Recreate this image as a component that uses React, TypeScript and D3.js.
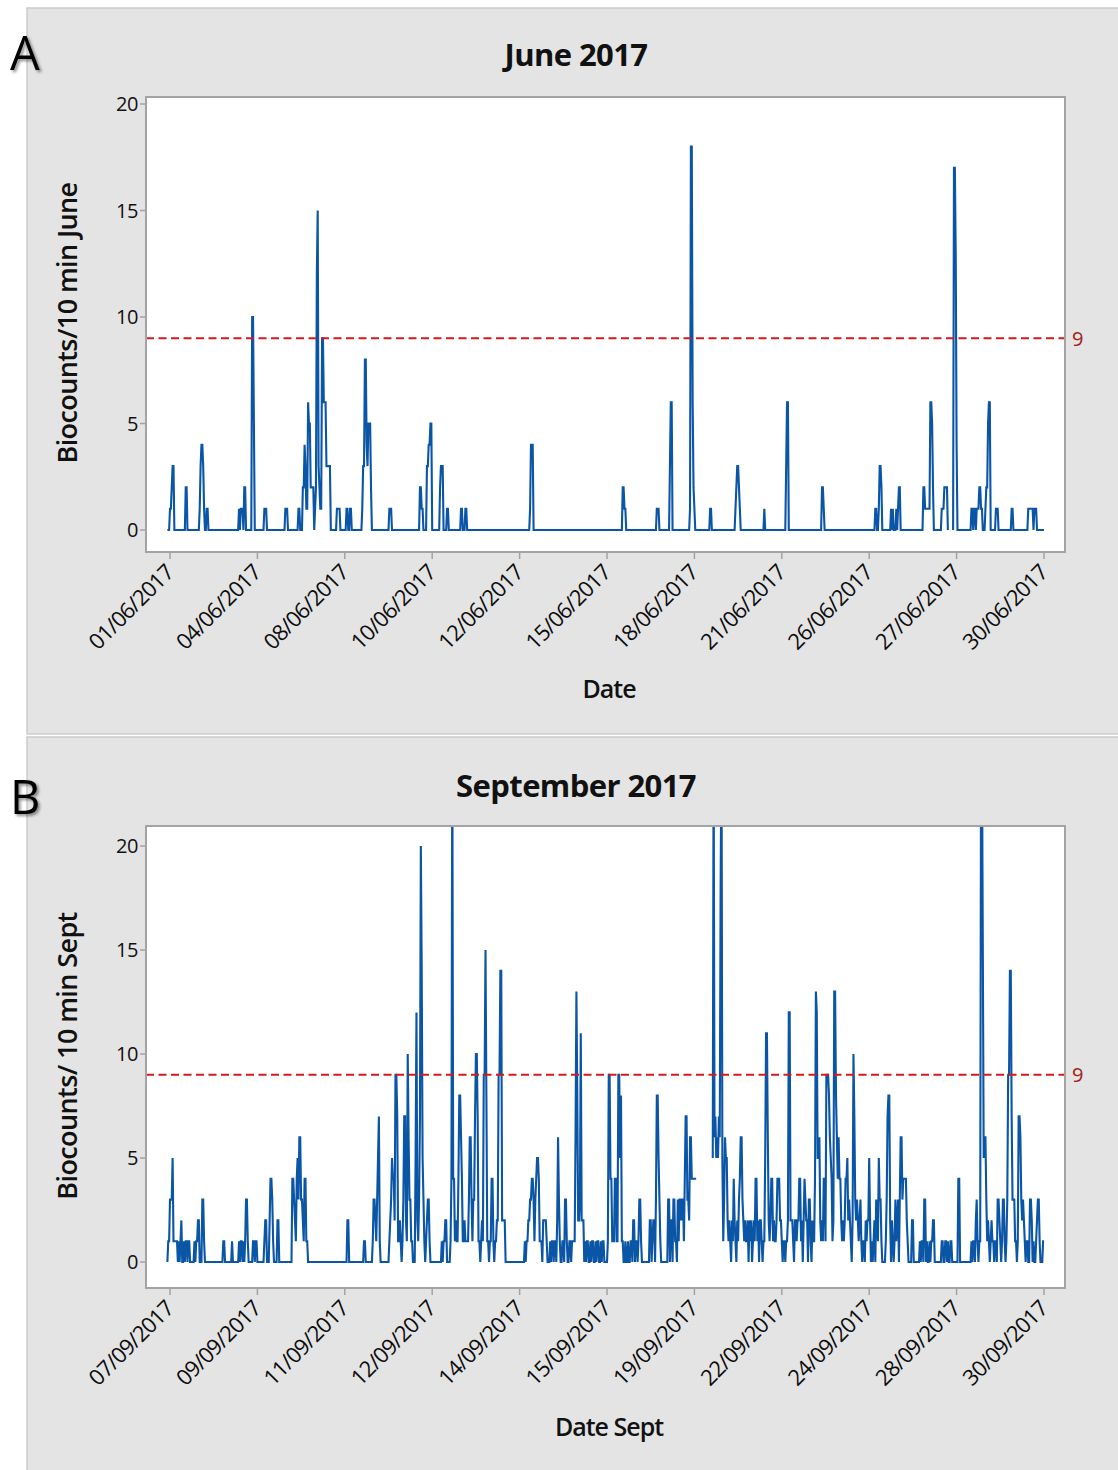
import React from "react";
import * as d3 from "d3";

// Labelled dates sit every 100 observations along the record
const tickStep = 100;
const juneDateLabels = [
  "01/06/2017", "04/06/2017", "08/06/2017", "10/06/2017", "12/06/2017", "15/06/2017",
  "18/06/2017", "21/06/2017", "26/06/2017", "27/06/2017", "30/06/2017",
];
const septDateLabels = [
  "07/09/2017", "09/09/2017", "11/09/2017", "12/09/2017", "14/09/2017", "15/09/2017",
  "19/09/2017", "22/09/2017", "24/09/2017", "28/09/2017", "30/09/2017",
];
const yTickValues = [0, 5, 10, 15, 20];
const alertLevel = 9;

// First and last observation index of each record
const juneRange: [number, number] = [-3, 1000];
const septRange: [number, number] = [-3, 1000];

// Bursts of counts: [first observation index, counts per 10 min ...]; all other observations are 0
const juneBursts: [number, number[]][] = [
  [0, [1, 1, 2, 3, 3, 0]], [18, [2, 2]], [34, [1, 3, 4, 4, 3, 1]], [42, [1, 1]],
  [79, [1, 0, 1, 1, 1, 0, 2, 2]], [94, [10, 10, 5]], [108, [1, 1, 1]], [132, [1, 1, 1]],
  [147, [1, 1]],
  [152, [2, 2, 4, 3, 1, 1, 6, 5, 5, 2, 2, 2, 2, 0, 1, 2, 12, 15, 3, 2, 1, 1, 9, 9, 6, 6, 6, 3, 3, 3, 3, 3]],
  [191, [1, 1, 1, 1]], [202, [1, 1]], [206, [1, 1]], [220, [1, 3, 3, 8, 8, 4, 3, 5, 5, 5, 2]],
  [251, [1, 1, 1]], [286, [2, 2, 1, 1]], [294, [3, 3, 4, 4, 5, 5]], [309, [2, 3, 3, 3]],
  [317, [1, 1]], [333, [1, 1]], [338, [1, 1]], [412, [1, 4, 4, 4]], [518, [2, 2, 1, 1]],
  [557, [1, 1, 1]], [572, [3, 6, 6]], [595, [1, 18, 18, 6, 2, 1]], [618, [1, 1]],
  [647, [1, 2, 3, 3, 2, 1]], [680, [1]], [705, [3, 6, 6]], [746, [2, 2, 1]],
  [807, [1, 1, 0, 0, 1, 3, 3, 2]], [825, [1, 0, 1, 0, 0, 0, 1, 0, 1, 2, 2]],
  [862, [2, 2, 1, 1, 1, 1, 1, 1, 6, 6, 5, 2]], [882, [0, 1, 1, 1, 2, 2, 2, 2, 0]],
  [897, [17, 17, 13, 4]], [917, [1, 1, 0, 1, 1, 0, 1, 1, 1, 2, 2, 1, 1]],
  [933, [1, 2, 2, 5, 6, 6]], [945, [1, 1, 1]], [963, [1, 1]], [982, [1, 1, 1, 1, 1, 1, 0, 1, 1, 1]],
];
const juneGaps: [number, number][] = [[891, 895]];

const septBursts: [number, number[]][] = [
  [-3, [0, 1, 1, 3, 3, 3, 5, 1, 1, 1, 1, 1, 0]], [10, [1, 0, 1, 2]], [16, [1, 0, 1, 1, 0, 1, 1]],
  [28, [1, 0, 1, 1, 2, 2]], [37, [3, 3, 1]], [61, [1, 1]], [71, [1]], [79, [1, 0, 1, 1, 0, 1]],
  [86, [1, 3, 3, 1]], [95, [1, 1, 0, 1, 1]], [108, [1, 2, 2]], [114, [2, 4, 4, 3, 1]], [123, [2, 2]],
  [140, [4, 4, 3, 2, 1, 4, 5, 3, 6, 6, 3, 3, 2, 1, 4, 4, 1, 1]], [203, [2, 2]], [222, [1, 1]],
  [232, [1, 3, 3, 2, 1, 3, 5, 7, 1]], [251, [1, 2, 3, 5, 4, 4, 2, 9, 9, 7, 1]], [262, [1, 2, 1]],
  [266, [1, 3, 7, 7, 2, 1, 10, 6, 3, 3, 1, 1]], [281, [5, 12]], [283, [2, 1, 3, 7, 20, 14, 5, 3, 1]],
  [293, [1, 2, 3, 3, 1]], [311, [1, 0, 1, 1, 2, 2]], [321, [1, 4, 25, 4, 4]],
  [326, [1, 2, 1, 1, 4, 8, 8, 6, 4, 1, 1, 2, 1, 1, 1, 1, 3, 6, 6, 3, 1]],
  [346, [1, 3, 3, 7, 10, 10, 7, 1, 1, 0, 1]], [357, [2, 1, 9, 9, 15, 8, 1]],
  [364, [1, 0, 1, 1, 4, 4, 1]], [372, [1, 1, 2, 2, 9, 9, 14, 14, 2, 2, 2, 2]],
  [406, [1, 0, 1, 1, 2, 2]], [412, [3, 3, 4, 4, 3, 1, 3, 4, 5, 5, 4, 1]], [424, [1, 1, 0, 2, 2, 2, 2, 1]],
  [435, [1, 0, 1, 1, 0, 1, 1, 0, 2, 6, 3, 1]], [449, [1, 1, 0, 3, 3, 1]], [457, [1, 1, 0, 1, 1, 1]],
  [463, [1, 6, 13, 8, 2, 2, 3, 11, 2, 2, 2]],
  [475, [1, 0, 1, 1, 0, 0, 1, 0, 1, 1, 0, 0, 1, 0, 1, 1, 0, 0, 1, 0, 1, 1]],
  [501, [1, 9, 9, 4, 4, 1]], [507, [1, 1, 4, 4, 1]], [512, [1, 9, 9, 5, 8, 1]],
  [518, [1, 0, 0, 1, 0, 0, 1, 0, 0, 1, 1]], [530, [2, 2, 0, 1, 1, 0, 1, 3, 3, 1]],
  [549, [2, 2, 0, 1, 2, 2, 0, 3, 8, 8, 5, 3, 1]], [570, [3, 3, 0, 2, 2, 0, 3, 3, 1, 1]],
  [581, [3, 1, 3, 3, 2, 3, 3, 1, 4, 7, 7]], [592, [3, 3, 2, 6, 6, 4, 4, 4, 4, 4, 4]],
  [621, [5, 25, 6, 7, 5, 6, 5, 7, 6, 18, 25, 5]], [633, [1, 3, 6, 5, 5, 2, 1, 2]],
  [641, [1, 0, 2, 1, 4, 2, 1, 0, 2, 1, 3, 4, 6, 6, 3, 2, 1, 2, 1]],
  [660, [1, 2, 0, 2, 1, 2, 0, 1, 2, 1, 4, 4, 1, 2, 0, 2, 2, 1, 0, 1, 1, 5, 11, 11, 6, 2]],
  [686, [1, 2, 4, 4, 1, 2, 1, 1, 2, 4, 4, 4, 2]], [699, [2, 1, 0, 1, 1, 0, 1]],
  [706, [1, 2, 12, 12, 2]], [711, [2, 2, 1, 0, 2, 2]], [717, [1, 2, 2, 4, 4, 1, 2, 0, 2, 4, 3, 2]],
  [729, [2, 0, 3, 3, 1, 0, 2, 1, 1]], [738, [4, 13, 12, 5, 5, 6, 2]], [745, [1, 2, 1, 4, 4, 1, 9]],
  [752, [9, 9, 8, 6, 5, 4]], [758, [1, 2, 13, 13, 8, 6, 4, 6, 4, 4, 2]],
  [769, [1, 2, 1, 2, 4, 4, 5, 2, 3, 2, 1, 0]], [781, [2, 10, 7, 3, 2]], [786, [3, 2, 1, 2, 3, 1, 0, 1]],
  [794, [1, 0, 2, 1, 2, 2, 5, 2, 0]], [803, [1, 0, 1, 2, 0, 3, 2, 1, 5, 3, 3, 1]],
  [819, [1, 3, 7, 8, 8, 2]], [826, [2, 1, 0, 1, 3, 1, 2, 3, 0, 3, 6, 6, 3, 4, 4, 4, 4, 2, 1]],
  [849, [2, 2]], [858, [1, 0, 1, 1, 0, 3, 3, 0, 1, 0, 0, 1, 0, 1, 1, 2, 2]],
  [883, [1, 1, 0, 0, 1, 1, 0, 1, 0, 0, 1, 1]], [902, [4, 4]], [917, [1, 0, 1, 1, 0, 2, 3, 1, 0, 1, 1]],
  [928, [25, 25, 15, 5, 6, 6]], [934, [3, 1, 2, 1, 0, 1, 2, 1]],
  [942, [1, 0, 1, 1, 0, 3, 3, 2, 1, 0, 1, 3, 3, 1]], [957, [1, 3, 9, 9, 14, 14, 7, 3, 3]],
  [966, [3, 1, 1, 0, 1, 7, 7, 6, 3, 2]], [976, [3, 2, 1, 0, 1, 1, 0, 0]],
  [984, [3, 3, 2, 0, 1, 0, 0, 1, 2, 3, 3, 1, 0, 0, 0, 1, 1]],
];
const septGaps: [number, number][] = [[603, 620]];

type Pt = { i: number; v: number };

function buildSeries(range: [number, number], bursts: [number, number[]][], gaps: [number, number][]): Pt[] {
  const pts: Pt[] = d3.range(range[0], range[1] + 1).map((i) => ({ i, v: 0 }));
  const byIndex = new Map(pts.map((p) => [p.i, p] as [number, Pt]));
  bursts.forEach(([start, vals]) =>
    vals.forEach((v, k) => {
      const p = byIndex.get(start + k);
      if (p) p.v = v;
    })
  );
  gaps.forEach(([a, b]) => {
    for (let i = a; i <= b; i++) {
      const p = byIndex.get(i);
      if (p) p.v = NaN;
    }
  });
  return pts;
}

const FONT = "'Open Sans', 'Noto Sans', sans-serif";
const LINE_BLUE = "#0a55a6";
const FRAME_GREY = "#a3a3a3";

type PanelSpec = {
  id: string;
  letter: string;
  bgTop: number;
  bgBottom: number;
  frameTop: number;
  frameBottom: number;
  y0: number;
  y20: number;
  title: string;
  titleY: number;
  letterY: number;
  yLabel: string;
  yLabelCenter: number;
  xLabel: string;
  xLabelY: number;
  dates: string[];
  series: Pt[];
};

const FRAME_LEFT = 146;
const FRAME_RIGHT = 1065;

function Panel({ p }: { p: PanelSpec }) {
  const x = d3.scaleLinear().domain([0, tickStep * (p.dates.length - 1)]).range([170, 1044]);
  const y = d3.scaleLinear().domain([0, 20]).range([p.y0, p.y20]);
  const line = d3
    .line<Pt>()
    .defined((d) => !isNaN(d.v))
    .x((d) => x(d.i))
    .y((d) => y(d.v));
  const xTicks = p.dates.map((label, k) => ({ label, pos: x(k * tickStep) }));
  const clipId = `plot-clip-${p.id}`;
  return (
    <g>
      <rect x={27} y={p.bgTop} width={1100} height={p.bgBottom - p.bgTop} fill="#e4e4e4" stroke="#cbcbcb" strokeWidth={1.5} />
      <text x={10} y={p.letterY} fontFamily={FONT} fontSize={47} fill="#000" filter="url(#letter-shadow)">
        {p.letter}
      </text>
      <text x={576} y={p.titleY} textAnchor="middle" fontFamily={FONT} fontWeight={700} fontSize={31} letterSpacing={-0.6} fill="#111">
        {p.title}
      </text>
      <defs>
        <clipPath id={clipId}>
          <rect x={FRAME_LEFT} y={p.frameTop} width={FRAME_RIGHT - FRAME_LEFT} height={p.frameBottom - p.frameTop} />
        </clipPath>
      </defs>
      <rect x={FRAME_LEFT} y={p.frameTop} width={FRAME_RIGHT - FRAME_LEFT} height={p.frameBottom - p.frameTop} fill="#fff" />
      {/* y axis ticks */}
      {yTickValues.map((t) => (
        <g key={t}>
          <line x1={FRAME_LEFT - 6} x2={FRAME_LEFT} y1={y(t)} y2={y(t)} stroke={FRAME_GREY} strokeWidth={1.5} />
          <text x={FRAME_LEFT - 8} y={y(t)} dy="0.36em" textAnchor="end" fontFamily={FONT} fontSize={20} letterSpacing={-0.4} fill="#111">
            {t}
          </text>
        </g>
      ))}
      {/* x axis ticks with rotated dates */}
      {xTicks.map((t) => (
        <g key={t.label}>
          <line x1={t.pos} x2={t.pos} y1={p.frameBottom} y2={p.frameBottom + 7} stroke={FRAME_GREY} strokeWidth={1.5} />
          <text
            transform={`translate(${t.pos + 5},${p.frameBottom + 22}) rotate(-45)`}
            textAnchor="end"
            fontFamily={FONT}
            fontSize={22}
            letterSpacing={-0.8}
            fill="#0c0c0c"
          >
            {t.label}
          </text>
        </g>
      ))}
      <g clipPath={`url(#${clipId})`}>
        <path d={line(p.series) || ""} fill="none" stroke={LINE_BLUE} strokeWidth={2.1} strokeMiterlimit={2} />
      </g>
      <line
        x1={FRAME_LEFT}
        x2={FRAME_RIGHT}
        y1={y(alertLevel)}
        y2={y(alertLevel)}
        stroke="#d7191c"
        strokeWidth={2}
        strokeDasharray="8 4.5"
      />
      <text x={FRAME_RIGHT + 7} y={y(alertLevel)} dy="0.36em" fontFamily={FONT} fontSize={20} fill="#a31a1a">
        {alertLevel}
      </text>
      <rect
        x={FRAME_LEFT}
        y={p.frameTop}
        width={FRAME_RIGHT - FRAME_LEFT}
        height={p.frameBottom - p.frameTop}
        fill="none"
        stroke={FRAME_GREY}
        strokeWidth={2}
      />
      <text
        transform={`translate(77,${p.yLabelCenter}) rotate(-90)`}
        textAnchor="middle"
        fontFamily={FONT}
        fontWeight={600}
        fontSize={27}
        letterSpacing={-0.6}
        fill="#111"
      >
        {p.yLabel}
      </text>
      <text x={609} y={p.xLabelY} textAnchor="middle" fontFamily={FONT} fontWeight={600} fontSize={25} letterSpacing={-1} fill="#111">
        {p.xLabel}
      </text>
    </g>
  );
}

export default function App() {
  const panels: PanelSpec[] = [
    {
      id: "june",
      letter: "A",
      bgTop: 8,
      bgBottom: 734,
      frameTop: 97,
      frameBottom: 552,
      y0: 530,
      y20: 104,
      title: "June 2017",
      titleY: 66,
      letterY: 70,
      yLabel: "Biocounts/10 min June",
      yLabelCenter: 323,
      xLabel: "Date",
      xLabelY: 698,
      dates: juneDateLabels,
      series: buildSeries(juneRange, juneBursts, juneGaps),
    },
    {
      id: "sept",
      letter: "B",
      bgTop: 737,
      bgBottom: 1480,
      frameTop: 826,
      frameBottom: 1288,
      y0: 1262,
      y20: 846,
      title: "September 2017",
      titleY: 797,
      letterY: 814,
      yLabel: "Biocounts/ 10 min Sept",
      yLabelCenter: 1056,
      xLabel: "Date Sept",
      xLabelY: 1436,
      dates: septDateLabels,
      series: buildSeries(septRange, septBursts, septGaps),
    },
  ];
  return (
    <svg
      width={1118}
      height={1470}
      viewBox="0 0 1118 1470"
      style={{ position: "absolute", left: 0, top: 0, display: "block", background: "#fff" }}
    >
      <defs>
        <filter id="letter-shadow" x="-20%" y="-20%" width="150%" height="150%">
          <feDropShadow dx={2} dy={2} stdDeviation={1.5} floodColor="#000" floodOpacity={0.45} />
        </filter>
      </defs>
      {panels.map((p) => (
        <Panel key={p.id} p={p} />
      ))}
    </svg>
  );
}
